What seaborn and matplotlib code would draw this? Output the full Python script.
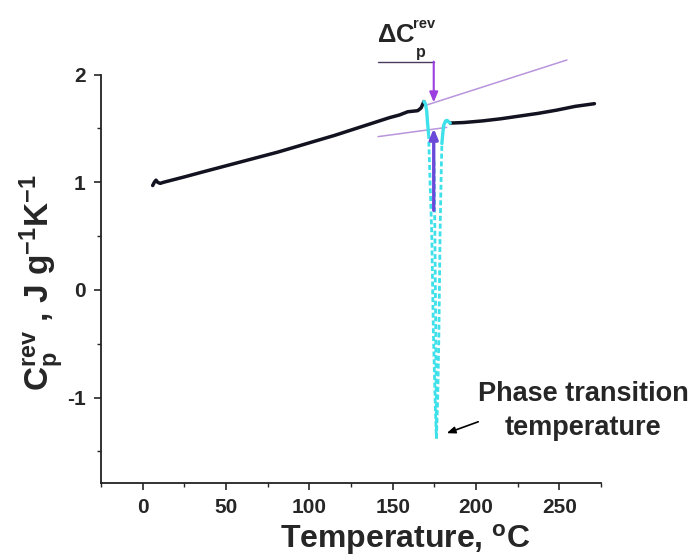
import matplotlib
matplotlib.use("Agg")
import matplotlib.pyplot as plt
import seaborn as sns
import pandas as pd

# Reversing heat capacity trace before the transition (T in degC, Cp in J/g/K)
pre_T = [6.0, 7.0, 8.0, 9.0, 10.5, 12.5, 25, 37, 48, 59, 70, 81, 92, 104,
         115, 126, 137, 148, 154, 159, 165, 167, 168.7]
pre_cp = [0.97, 1.00, 1.02, 1.00, 0.99, 1.00, 1.05, 1.10, 1.145, 1.19, 1.235,
          1.28, 1.33, 1.385, 1.435, 1.49, 1.545, 1.60, 1.625, 1.655, 1.665,
          1.69, 1.75]

# Trace after the transition
post_T = [184.5, 192.6, 203.8, 214.9, 226.0, 237.2, 248.3, 259.4, 271.0]
post_cp = [1.55, 1.555, 1.57, 1.59, 1.615, 1.64, 1.67, 1.705, 1.73]

# Transition peak: solid shoulders and dashed descending/ascending branches
peak_left_T = [168.7, 169.6, 170.4, 170.9, 171.5]
peak_left_cp = [1.75, 1.73, 1.66, 1.55, 1.45]
peak_right_T = [179.5, 180.0, 180.6, 181.7, 182.6, 183.7, 184.5]
peak_right_cp = [1.36, 1.45, 1.53, 1.57, 1.575, 1.56, 1.55]
drop_T = [171.5, 172.4, 173.4, 174.4, 175.4, 176.2]
drop_cp = [1.45, 1.00, 0.53, -0.40, -1.00, -1.38]
mid_T = [174.8, 175.3, 175.8, 176.1, 176.2]
mid_cp = [1.20, 0.53, -0.40, -1.00, -1.38]
rise_T = [176.2, 177.0, 177.7, 178.4, 179.1, 179.5]
rise_cp = [-1.38, -1.00, -0.40, 0.53, 1.10, 1.36]

# Extrapolated baselines used for the step height
upper_base_T = [170.4, 254.5]
upper_base_cp = [1.718, 2.136]
lower_base_T = [141.2, 182.4]
lower_base_cp = [1.424, 1.51]

# Step height marker: top (2.12), upper baseline, lower baseline, arrow foot
step_T = 174.6
step_top, step_upper, step_lower, step_foot = 2.12, 1.742, 1.50, 0.74

x_ticks = [0, 50, 100, 150, 200, 250]
y_ticks = [-1, 0, 1, 2]

sns.set_style("ticks")
plt.rcParams["font.family"] = ["Liberation Sans", "DejaVu Sans"]
plt.rcParams["font.weight"] = "bold"
plt.rcParams["axes.unicode_minus"] = False
plt.rcParams["mathtext.fontset"] = "custom"
plt.rcParams["mathtext.rm"] = "Liberation Sans:bold"
plt.rcParams["mathtext.bf"] = "Liberation Sans:bold"
plt.rcParams["mathtext.it"] = "Liberation Sans:bold"

fig = plt.figure(figsize=(6.95, 5.6), dpi=100)
ax = fig.add_axes([0.1453, 0.138, 0.7196, 0.8249])

cyan = "#3ee0ea"
black = "#121220"


def draw(T, cp, **kw):
    df = pd.DataFrame({"T": T, "cp": cp})
    sns.lineplot(data=df, x="T", y="cp", sort=False, estimator=None, ax=ax, **kw)


# baselines
draw(upper_base_T, upper_base_cp, color="#b895dc", lw=1.1)
draw(lower_base_T, lower_base_cp, color="#b895dc", lw=1.1)

# dashed parts of the peak
for T, cp in [(drop_T, drop_cp), (mid_T, mid_cp), (rise_T, rise_cp)]:
    draw(T, cp, color=cyan, lw=2.0, linestyle=(0, (1.8, 1.0)))

# solid trace
draw(pre_T, pre_cp, color=black, lw=2.5)
draw(post_T, post_cp, color=black, lw=2.5)
draw(peak_left_T, peak_left_cp, color=cyan, lw=2.4)
draw(peak_right_T, peak_right_cp, color=cyan, lw=2.4)

for line in ax.get_lines():
    line.set_clip_on(False)

# step-height arrows
ax.plot([141.2, step_T], [step_top, step_top], color="#4a3a5e", lw=1.0,
        clip_on=False)
ax.annotate("", xy=(step_T, step_upper), xytext=(step_T, step_top),
            arrowprops=dict(arrowstyle="-|>,head_length=0.6,head_width=0.25",
                            color="#9b3fe0", lw=1.5, shrinkA=0, shrinkB=0),
            annotation_clip=False)
ax.annotate("", xy=(step_T, step_lower), xytext=(step_T, step_foot),
            arrowprops=dict(arrowstyle="-|>,head_length=0.6,head_width=0.25",
                            color="#6a48d8", lw=2.4, shrinkA=0, shrinkB=0),
            annotation_clip=False)
ax.text(140.6, 2.30, r"$\Delta$C", fontsize=18.5, fontweight="bold",
        ha="left", va="baseline")
ax.text(162.3, 2.43, "rev", fontsize=10.5, fontweight="bold",
        ha="left", va="baseline")
ax.text(163.8, 2.16, "p", fontsize=11.5, fontweight="bold",
        ha="left", va="baseline")

# transition label
ax.text(264.1, -1.12, "Phase transition\ntemperature", fontsize=19.5,
        fontweight="bold", ha="center", va="center", linespacing=1.4)
ax.annotate("", xy=(182.4, -1.33), xytext=(201.3, -1.224),
            arrowprops=dict(arrowstyle="-|>,head_length=0.5,head_width=0.2",
                            color="black", lw=1.2, shrinkA=0, shrinkB=0))

ax.set_xlim(-25, 275)
ax.set_ylim(-1.79, 2.5)
ax.set_xticks(x_ticks)
ax.set_yticks(y_ticks)
ax.set_xticks([-25, 25, 75, 125, 175, 225, 275], minor=True)
ax.set_yticks([-1.5, -0.5, 0.5, 1.5], minor=True)
ax.tick_params(which="major", direction="out", length=5, width=1.2,
               labelsize=15, pad=6)
ax.tick_params(which="minor", direction="out", length=3, width=1.0)
for lab in ax.get_xticklabels() + ax.get_yticklabels():
    lab.set_fontweight("bold")

sns.despine(ax=ax)
ax.spines["left"].set_bounds(-1.79, 2)
for s in ("left", "bottom"):
    ax.spines[s].set_linewidth(1.3)
    ax.spines[s].set_color("#222222")

ax.set_xlabel(r"Temperature, $^{\mathrm{o}}$C", fontsize=23,
              fontweight="bold")
ax.xaxis.set_label_coords(0.608, -0.085)
ax.set_ylabel(r"C$_{\mathrm{p}}^{\mathrm{rev}}$ , J g$^{\mathrm{-1}}$K$^{\mathrm{-1}}$",
              fontsize=24, fontweight="bold")
ax.yaxis.set_label_coords(-0.07, 0.433)

fig.savefig("out.png", dpi=100)
